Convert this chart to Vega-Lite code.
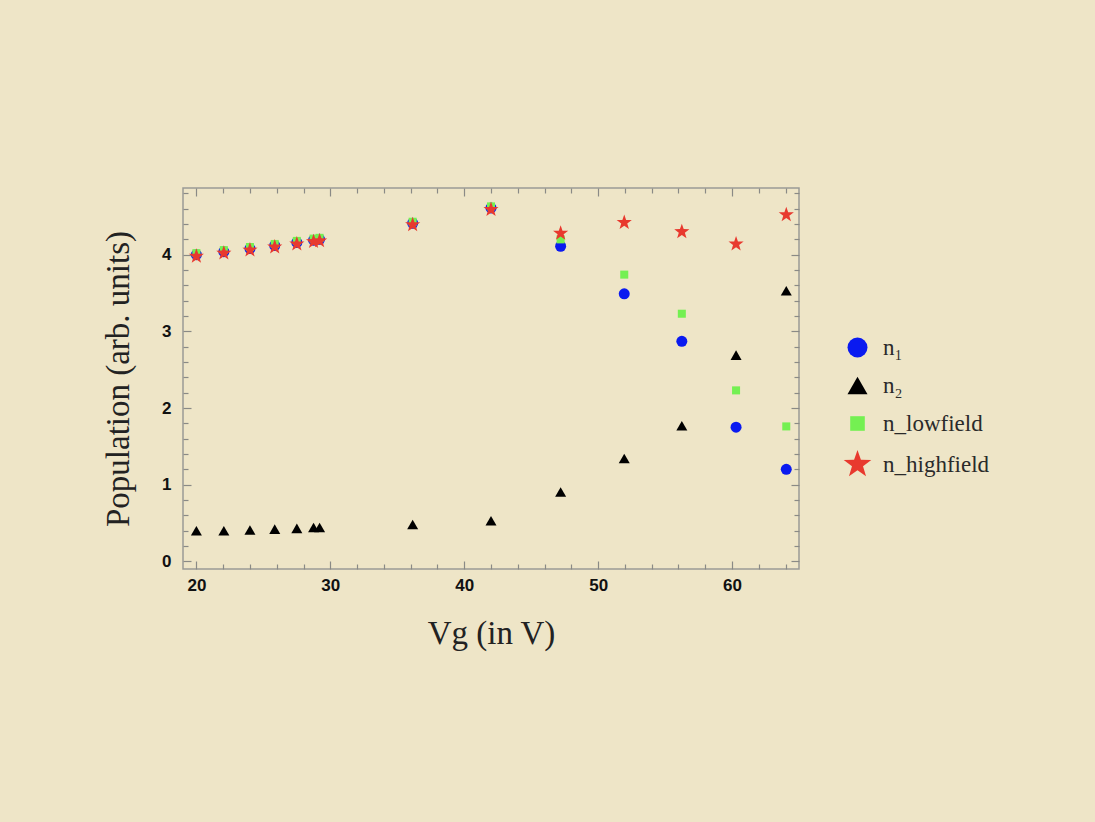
{
  "$schema": "https://vega.github.io/schema/vega-lite/v6.json",
  "width": 616,
  "height": 381,
  "autosize": {"type": "none"},
  "padding": {"left": 183, "top": 188, "right": 296, "bottom": 253},
  "background": "#eee5c7",
  "config": {
    "view": {"stroke": "#9a9a96", "strokeWidth": 1.5},
    "axis": {
      "domain": false,
      "grid": false,
      "labelFont": "Liberation Sans",
      "labelFontWeight": "bold",
      "labelFontSize": 17,
      "labelColor": "#111",
      "tickColor": "#8a8a86",
      "tickWidth": 1.2,
      "titleFont": "Liberation Serif",
      "titleFontWeight": "normal",
      "titleFontSize": 33,
      "titleColor": "#222"
    },
    "legend": {
      "labelFont": "Liberation Serif",
      "labelFontSize": 23,
      "labelColor": "#2a2a2a",
      "symbolStrokeWidth": 0
    }
  },
  "data": {
    "values": [
      {"series": "n₁", "Vg": 20.0, "pop": 4.0},
      {"series": "n₁", "Vg": 22.05, "pop": 4.04},
      {"series": "n₁", "Vg": 24.0, "pop": 4.08},
      {"series": "n₁", "Vg": 25.85, "pop": 4.12},
      {"series": "n₁", "Vg": 27.5, "pop": 4.16},
      {"series": "n₁", "Vg": 28.75, "pop": 4.19},
      {"series": "n₁", "Vg": 29.2, "pop": 4.2},
      {"series": "n₁", "Vg": 36.15, "pop": 4.41},
      {"series": "n₁", "Vg": 42.0, "pop": 4.61},
      {"series": "n₁", "Vg": 47.2, "pop": 4.11},
      {"series": "n₁", "Vg": 51.95, "pop": 3.49},
      {"series": "n₁", "Vg": 56.25, "pop": 2.87},
      {"series": "n₁", "Vg": 60.3, "pop": 1.75},
      {"series": "n₁", "Vg": 64.05, "pop": 1.2},
      {"series": "n₂", "Vg": 20.0, "pop": 0.4},
      {"series": "n₂", "Vg": 22.05, "pop": 0.4},
      {"series": "n₂", "Vg": 24.0, "pop": 0.41},
      {"series": "n₂", "Vg": 25.85, "pop": 0.42},
      {"series": "n₂", "Vg": 27.5, "pop": 0.43},
      {"series": "n₂", "Vg": 28.75, "pop": 0.44},
      {"series": "n₂", "Vg": 29.2, "pop": 0.44},
      {"series": "n₂", "Vg": 36.15, "pop": 0.48},
      {"series": "n₂", "Vg": 42.0, "pop": 0.53},
      {"series": "n₂", "Vg": 47.2, "pop": 0.905},
      {"series": "n₂", "Vg": 51.95, "pop": 1.34},
      {"series": "n₂", "Vg": 56.25, "pop": 1.77},
      {"series": "n₂", "Vg": 60.3, "pop": 2.69},
      {"series": "n₂", "Vg": 64.05, "pop": 3.53},
      {"series": "n_lowfield", "Vg": 20.0, "pop": 4.02},
      {"series": "n_lowfield", "Vg": 22.05, "pop": 4.06},
      {"series": "n_lowfield", "Vg": 24.0, "pop": 4.1},
      {"series": "n_lowfield", "Vg": 25.85, "pop": 4.14},
      {"series": "n_lowfield", "Vg": 27.5, "pop": 4.18},
      {"series": "n_lowfield", "Vg": 28.75, "pop": 4.21},
      {"series": "n_lowfield", "Vg": 29.2, "pop": 4.22},
      {"series": "n_lowfield", "Vg": 36.15, "pop": 4.43},
      {"series": "n_lowfield", "Vg": 42.0, "pop": 4.63},
      {"series": "n_lowfield", "Vg": 47.2, "pop": 4.2},
      {"series": "n_lowfield", "Vg": 51.95, "pop": 3.74},
      {"series": "n_lowfield", "Vg": 56.25, "pop": 3.23},
      {"series": "n_lowfield", "Vg": 60.3, "pop": 2.23},
      {"series": "n_lowfield", "Vg": 64.05, "pop": 1.76},
      {"series": "n_highfield", "Vg": 20.0, "pop": 3.98},
      {"series": "n_highfield", "Vg": 22.05, "pop": 4.02},
      {"series": "n_highfield", "Vg": 24.0, "pop": 4.06},
      {"series": "n_highfield", "Vg": 25.85, "pop": 4.1},
      {"series": "n_highfield", "Vg": 27.5, "pop": 4.14},
      {"series": "n_highfield", "Vg": 28.75, "pop": 4.17},
      {"series": "n_highfield", "Vg": 29.2, "pop": 4.18},
      {"series": "n_highfield", "Vg": 36.15, "pop": 4.39},
      {"series": "n_highfield", "Vg": 42.0, "pop": 4.59},
      {"series": "n_highfield", "Vg": 47.2, "pop": 4.28},
      {"series": "n_highfield", "Vg": 51.95, "pop": 4.42},
      {"series": "n_highfield", "Vg": 56.25, "pop": 4.3},
      {"series": "n_highfield", "Vg": 60.3, "pop": 4.14},
      {"series": "n_highfield", "Vg": 64.05, "pop": 4.52}
    ]
  },
  "resolve": {"axis": {"x": "independent", "y": "independent"}},
  "layer": [
    {
      "mark": {"type": "point", "filled": true, "opacity": 1, "strokeWidth": 0, "size": 121},
      "encoding": {
        "x": {
          "field": "Vg", "type": "quantitative",
          "scale": {"domain": [19, 65], "nice": false, "zero": false},
          "axis": {
            "orient": "bottom",
            "title": "Vg (in V)",
            "values": [20, 22, 24, 26, 28, 30, 32, 34, 36, 38, 40, 42, 44, 46, 48, 50, 52, 54, 56, 58, 60, 62, 64],
            "tickSize": {"condition": {"test": "datum.value % 10 === 0", "value": -8}, "value": -5},
            "labelPadding": 16,
            "labelExpr": "datum.value % 10 === 0 ? format(datum.value, 'd') : ''",
            "titlePadding": 24
          }
        },
        "y": {
          "field": "pop", "type": "quantitative",
          "scale": {"domain": [-0.1, 4.87], "nice": false, "zero": false},
          "axis": {
            "orient": "left",
            "title": "Population (arb. units)",
            "values": [0, 0.2, 0.4, 0.6, 0.8, 1, 1.2, 1.4, 1.6, 1.8, 2, 2.2, 2.4, 2.6, 2.8, 3, 3.2, 3.4, 3.6, 3.8, 4, 4.2, 4.4, 4.6, 4.8],
            "tickSize": {"condition": {"test": "datum.value % 1 === 0", "value": -8}, "value": -5},
            "labelPadding": 20,
            "labelExpr": "datum.value % 1 === 0 ? format(datum.value, 'd') : ''",
            "titlePadding": 26
          }
        },
        "color": {
          "field": "series", "type": "nominal",
          "scale": {"domain": ["n₁", "n₂", "n_lowfield", "n_highfield"], "range": ["#0a1af0", "#000000", "#74f052", "#e8392e"]},
          "legend": {
            "title": null,
            "orient": "none",
            "legendX": 663,
            "legendY": 148,
            "rowPadding": 14,
            "labelOffset": 14,
            "symbolSize": 400
          }
        },
        "shape": {
          "field": "series", "type": "nominal",
          "scale": {
            "domain": ["n₁", "n₂", "n_lowfield", "n_highfield"],
            "range": ["circle", "triangle-up", "M-0.73,-0.73H0.73V0.73H-0.73Z", "M0,-1.45L0.341,-0.47L1.379,-0.448L0.551,0.18L0.853,1.173L0,0.58L-0.853,1.173L-0.551,0.18L-1.379,-0.448L-0.341,-0.47Z"]
          }
        }
      }
    },
    {
      "mark": {"type": "point", "opacity": 0},
      "encoding": {
        "x": {
          "field": "Vg", "type": "quantitative",
          "axis": {
            "orient": "top",
            "title": null,
            "labels": false,
            "values": [20, 22, 24, 26, 28, 30, 32, 34, 36, 38, 40, 42, 44, 46, 48, 50, 52, 54, 56, 58, 60, 62, 64],
            "tickSize": {"condition": {"test": "datum.value % 10 === 0", "value": -8}, "value": -5}
          }
        },
        "y": {
          "field": "pop", "type": "quantitative",
          "axis": {
            "orient": "right",
            "title": null,
            "labels": false,
            "values": [0, 0.2, 0.4, 0.6, 0.8, 1, 1.2, 1.4, 1.6, 1.8, 2, 2.2, 2.4, 2.6, 2.8, 3, 3.2, 3.4, 3.6, 3.8, 4, 4.2, 4.4, 4.6, 4.8],
            "tickSize": {"condition": {"test": "datum.value % 1 === 0", "value": -8}, "value": -5}
          }
        }
      }
    }
  ]
}
